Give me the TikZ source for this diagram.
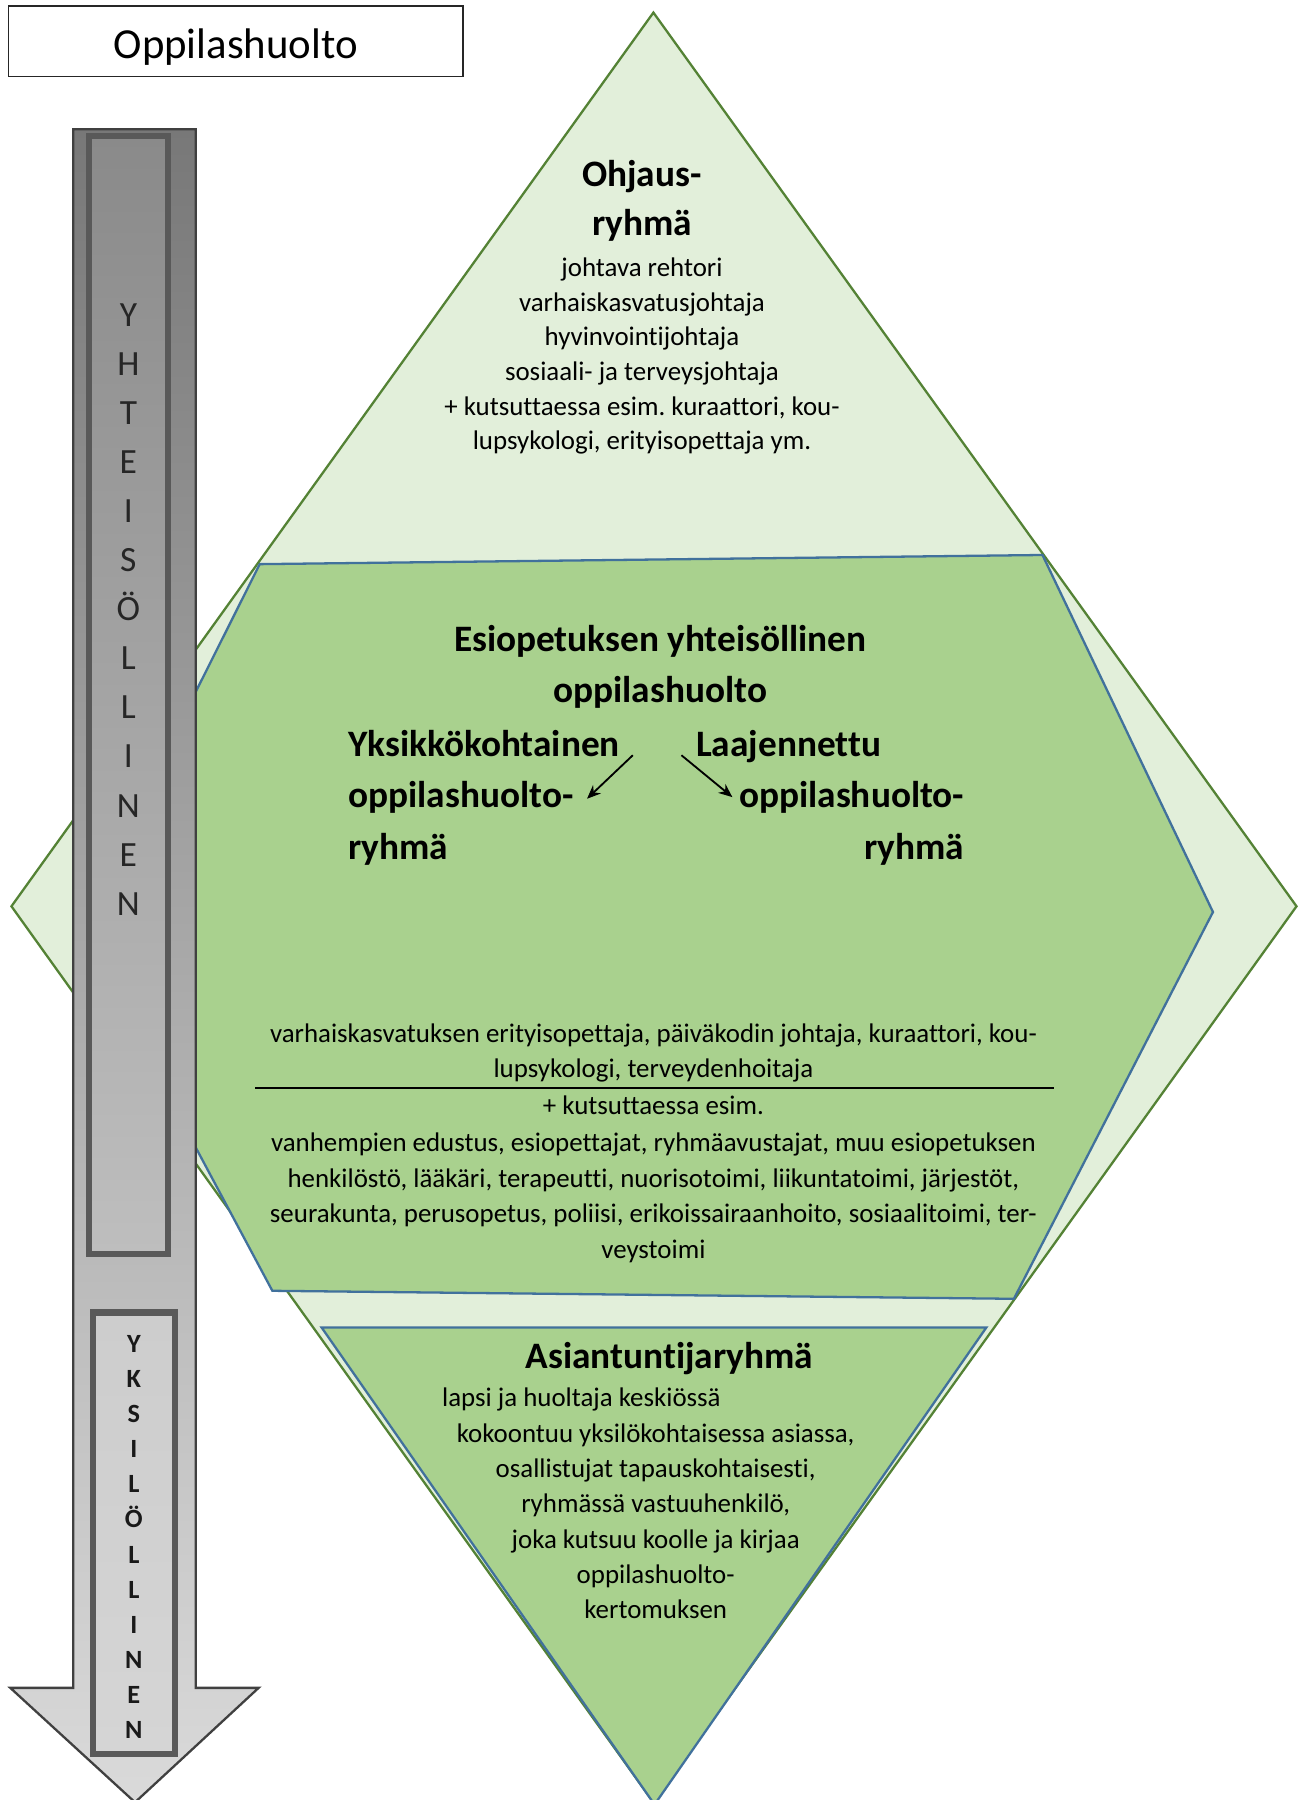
\documentclass[tikz,border=0pt]{standalone}
\usepackage{fontspec}
\setmainfont{Carlito}[Ligatures={NoCommon}]
\frenchspacing
\usetikzlibrary{arrows.meta}
\definecolor{dgreen}{HTML}{548235}
\definecolor{lgreen}{HTML}{E2EFDA}
\definecolor{mgreen}{HTML}{A9D18E}
\definecolor{eblue}{HTML}{41719C}
\definecolor{agray}{HTML}{404040}
\definecolor{bgray}{HTML}{595959}
\definecolor{shtop}{HTML}{787878}
\definecolor{shbot}{HTML}{DADADA}
\definecolor{bxtop}{HTML}{8A8A8A}
\definecolor{bxbot}{HTML}{BEBEBE}
\definecolor{bytop}{HTML}{CDCDCD}
\definecolor{bybot}{HTML}{D5D5D5}
\begin{document}
\begin{tikzpicture}[x=0.5pt,y=-0.5pt,
  body/.style={inner sep=0pt,anchor=base,font=\fontsize{11.75}{13}\selectfont},
  head/.style={inner sep=0pt,anchor=base,font=\fontsize{16.3}{18}\selectfont\bfseries},
  vlet/.style={inner sep=0pt,anchor=base,font=\fontsize{15.5}{17}\selectfont,text=black!85},
  vbold/.style={inner sep=0pt,anchor=base,font=\fontsize{11.5}{13}\selectfont\bfseries,text=black!90},
  layer/.style={line width=1pt,line join=miter},
  smallarrow/.style={line width=0.8pt,-{Stealth[length=6pt,width=5pt]}}]
\useasboundingbox (0,0) rectangle (1140,1573);

% title
\node[draw=black!85,line width=0.6pt,minimum width=198.6pt,minimum height=30.8pt,inner sep=0pt] (titlebox) at (206,36.1) {};
\node[inner sep=0pt,anchor=base,font=\fontsize{18.7}{20}\selectfont] (title) at (206,51) {Oppilashuolto};

% big diamond
\draw[layer,draw=dgreen,fill=lgreen] (571,11) -- (1133,792) -- (571,1575) -- (10,792) -- cycle;
% hexagon
\draw[layer,draw=eblue,fill=mgreen] (227,493) -- (911,485) -- (1060,797) -- (886,1135) -- (238,1128) -- (68,810) -- cycle;
% bottom triangle
\draw[layer,draw=eblue,fill=mgreen] (281,1160) -- (862,1160) -- (572,1577) -- cycle;

% left arrow
\draw[line width=1pt,draw=agray,top color=shtop,bottom color=shbot,line join=miter]
  (64,113) -- (171,113) -- (171,1475) -- (226,1475) -- (118,1575) -- (9,1475) -- (64,1475) -- cycle;
\draw[line width=2.75pt,draw=bgray,top color=bxtop,bottom color=bxbot] (78,119) rectangle (147,1096);
\draw[line width=2.75pt,draw=bgray,top color=bytop,bottom color=bybot] (81,1147) rectangle (153,1533);

\foreach \c [count=\i from 0] in {Y,H,T,E,I,S,Ö,L,L,I,N,E,N}
  \node[vlet] (ya\i) at (112.2,285+42.9*\i) {\c};
\foreach \c [count=\i from 0] in {Y,K,S,I,L,Ö,L,L,I,N,E,N}
  \node[vbold] (yb\i) at (117,1182+30.65*\i) {\c};

% Ohjausryhma
\node[head] (oh1) at (561,163) {Ohjaus-};
\node[head] (oh2) at (561,206) {ryhmä};
\node[body] (oa) at (561,241.5) {johtava rehtori};
\node[body] (ob) at (561,271.8) {varhaiskasvatusjohtaja};
\node[body] (oc) at (561,302.1) {hyvinvointijohtaja};
\node[body] (od) at (561,332.4) {sosiaali- ja terveysjohtaja};
\node[body] (oe) at (561,362.7) {+ kutsuttaessa esim. kuraattori, kou-};
\node[body] (of) at (561,393) {lupsykologi, erityisopettaja ym.};

% hexagon text
\node[head] (e1) at (577,569.3) {Esiopetuksen yhteisöllinen};
\node[head] (e2) at (577,614.2) {oppilashuolto};
\node[head,anchor=base west] (y1) at (304,661) {Yksikkökohtainen};
\node[head,anchor=base west] (y2) at (304,706) {oppilashuolto-};
\node[head,anchor=base west] (y3) at (304,751) {ryhmä};
\node[head,anchor=base west] (l1) at (608,661) {Laajennettu};
\node[head,anchor=base east] (l2) at (843,706) {oppilashuolto-};
\node[head,anchor=base east] (l3) at (843,751) {ryhmä};
\coordinate (a1s) at (553,660);
\coordinate (a1e) at (513,698);
\coordinate (a2s) at (595.5,660);
\coordinate (a2e) at (640,696.6);
\draw[smallarrow] (a1s) -- (a1e);
\draw[smallarrow] (a2s) -- (a2e);

\node[body] (h1) at (571,910.6) {varhaiskasvatuksen erityisopettaja, päiväkodin johtaja, kuraattori, kou-};
\node[body] (h2) at (571,941.9) {lupsykologi, terveydenhoitaja};
\coordinate (dl) at (223,951);
\coordinate (dr) at (921,951);
\draw[line width=0.9pt] (dl) -- (dr);
\node[body] (h3) at (571,973.8) {+ kutsuttaessa esim.};
\node[body] (h4) at (571,1006) {vanhempien edustus, esiopettajat, ryhmäavustajat, muu esiopetuksen};
\node[body] (h5) at (571,1037.4) {henkilöstö, lääkäri, terapeutti, nuorisotoimi, liikuntatoimi, järjestöt,};
\node[body] (h6) at (571,1068.6) {seurakunta, perusopetus, poliisi, erikoissairaanhoito, sosiaalitoimi, ter-};
\node[body] (h7) at (571,1099.8) {veystoimi};

% Asiantuntijaryhma
\node[head] (as) at (585,1195.8) {Asiantuntijaryhmä};
\node[body,anchor=base west] (s1) at (386,1229.5) {lapsi ja huoltaja keskiössä};
\node[body] (s2) at (573,1260.2) {kokoontuu yksilökohtaisessa asiassa,};
\node[body] (s3) at (573,1290.8) {osallistujat tapauskohtaisesti,};
\node[body] (s4) at (573,1321.5) {ryhmässä vastuuhenkilö,};
\node[body] (s5) at (573,1353) {joka kutsuu koolle ja kirjaa};
\node[body] (s6) at (573,1383.7) {oppilashuolto-};
\node[body] (s7) at (573,1414.3) {kertomuksen};
\end{tikzpicture}
\end{document}
